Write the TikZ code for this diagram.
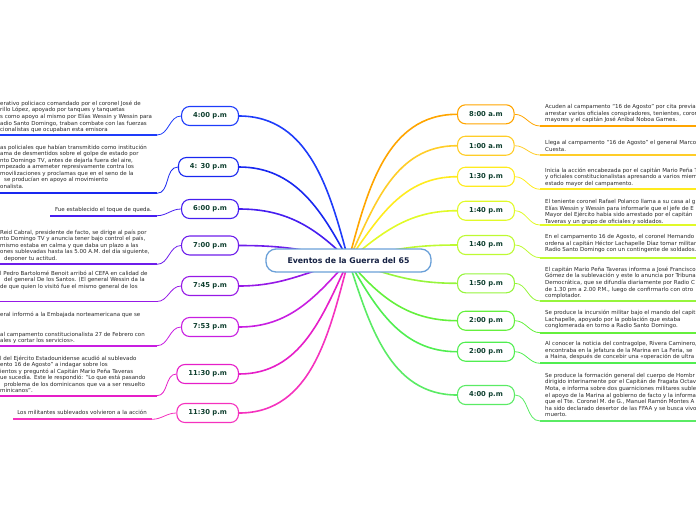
\documentclass[tikz,border=0pt]{standalone}
\usepackage{fontspec}
\setmainfont{DejaVu Sans}
\usepackage{xcolor}
\usetikzlibrary{backgrounds}

\definecolor{hubline}{RGB}{106,160,216}
\definecolor{hubtext}{RGB}{22,34,68}
\definecolor{timetext}{RGB}{16,64,48}
\definecolor{notetext}{RGB}{40,40,40}
\definecolor{lc1}{RGB}{30,60,250}
\definecolor{lc2}{RGB}{25,40,240}
\definecolor{lc3}{RGB}{70,30,240}
\definecolor{lc4}{RGB}{110,30,235}
\definecolor{lc5}{RGB}{150,25,230}
\definecolor{lc6}{RGB}{200,30,225}
\definecolor{lc7}{RGB}{230,30,200}
\definecolor{lc8}{RGB}{245,50,190}
\definecolor{rc1}{RGB}{255,165,0}
\definecolor{rc2}{RGB}{255,205,40}
\definecolor{rc3}{RGB}{255,235,30}
\definecolor{rc4}{RGB}{225,250,40}
\definecolor{rc5}{RGB}{190,250,50}
\definecolor{rc6}{RGB}{150,245,60}
\definecolor{rc7}{RGB}{100,240,60}
\definecolor{rc8}{RGB}{80,238,80}
\definecolor{rc9}{RGB}{90,235,100}

\begin{document}
\begin{tikzpicture}[x=1pt,y=1pt,
  hub/.style={draw=hubline,line width=1.3pt,rounded corners=10pt,fill=white,text=hubtext,font=\fontsize{7.8}{9}\selectfont\bfseries,minimum width=165pt,minimum height=23pt,inner sep=0pt},
  ltime/.style={draw=#1,line width=1.1pt,rounded corners=8pt,fill=white,text=timetext,font=\fontsize{6.8}{8}\selectfont\bfseries,minimum height=19pt,inner xsep=11.5pt,inner ysep=0pt,anchor=east},
  rtime/.style={ltime=#1,anchor=west},
  txt/.style={anchor=north west,align=left,inner sep=0pt,text=notetext,font=\fontsize{5.5}{6.55}\selectfont},
  spoke/.style={draw=#1,line width=1.6pt},
  twig/.style={draw=#1,line width=0.8pt},
  uline/.style={draw=#1,line width=1.8pt}
]
\useasboundingbox (0,0) rectangle (696,-520);

\node[hub] (hub) at (348.5,-260.5) {Eventos de la Guerra del 65};

\node[ltime=lc1] (l1) at (239,-116) {4:00 p.m};
\node[ltime=lc2] (l2) at (239,-167) {4: 30 p.m};
\node[ltime=lc3] (l3) at (239,-209) {6:00 p.m};
\node[ltime=lc4] (l4) at (239,-245.5) {7:00 p.m};
\node[ltime=lc5] (l5) at (239,-286) {7:45 p.m};
\node[ltime=lc6] (l6) at (239,-327) {7:53 p.m};
\node[ltime=lc7] (l7) at (239,-374) {11:30 p.m};
\node[ltime=lc8] (l8) at (239,-413) {11:30 p.m};

\node[rtime=rc1] (r1) at (457,-114.3) {8:00 a.m};
\node[rtime=rc2] (r2) at (457,-145.7) {1:00 a.m};
\node[rtime=rc3] (r3) at (457,-176.7) {1:30 p.m};
\node[rtime=rc4] (r4) at (457,-210.7) {1:40 p.m};
\node[rtime=rc5] (r5) at (457,-245) {1:40 p.m};
\node[rtime=rc6] (r6) at (457,-283.3) {1:50 p.m};
\node[rtime=rc7] (r7) at (457,-320.7) {2:00 p.m};
\node[rtime=rc8] (r8) at (457,-351.7) {2:00 p.m};
\node[rtime=rc9] (r9) at (457,-395) {4:00 p.m};

\node[txt] (l1t) at (0,-100.8) {erativo policiaco comandado por el coronel José de\\rillo López, apoyado por tanques y tanquetas\\s como apoyo al mismo por Elías Wessin y Wessin para\\adio Santo Domingo, traban combate con las fuerzas\\cionalistas que ocupaban esta emisora};
\node[txt] (l2t) at (0,-144.5) {as policiales que habían transmitido como institución\\ama de desmentidos sobre el golpe de estado por\\nto Domingo TV, antes de dejarla fuera del aire,\\mpezado a arremeter represivamente contra los\\movilizaciones y proclamas que en el seno de la\\\hspace*{4pt}se producían en apoyo al movimiento\\onalista.};
\node[txt,anchor=north east] (l3t) at (152,-206.8) {Fue establecido el toque de queda.};
\node[txt] (l4t) at (0,-229.5) {Reid Cabral, presidente de facto, se dirige al país por\\nto Domingo TV y anuncia tener bajo control el país,\\mismo estaba en calma y que daba un plazo a las\\ones sublevadas hasta las 5.00 A.M. del día siguiente,\\\hspace*{4pt}deponer tu actitud.};
\node[txt] (l5t) at (0,-270.8) {l Pedro Bartolomé Benoit arribó al CEFA en calidad de\\\hspace*{4pt}del general De los Santos. (El general Wessin da la\\de que quien lo visitó fue el mismo general de los};
\node[txt] (l6t) at (0,-312) {eral informó a la Embajada norteamericana que se\\[13.1pt]al campamento constitucionalista 27 de Febrero con\\ales y cortar los servicios».};
\node[txt] (l7t) at (0,-355.5) {l del Ejército Estadounidense acudió al sublevado\\ento 16 de Agosto” a indagar sobre los\\ientos y preguntó al Capitán Mario Peña Taveras\\ue sucedía. Este le respondió: “Lo que está pasando\\\hspace*{4pt}problema de los dominicanos que va a ser resuelto\\minicanos”.};
\node[txt,anchor=north east] (l8t) at (147,-410.1) {Los militantes sublevados volvieron a la acción};

\node[txt] (r1t) at (545,-104.5) {Acuden al campamento “16 de Agosto” por cita previa\\arrestar varios oficiales conspiradores, tenientes, coron\\mayores y el capitán José Aníbal Noboa Garnes.};
\node[txt] (r2t) at (545,-140.3) {Llega al campamento “16 de Agosto” el general Marcos\\Cuesta.};
\node[txt] (r3t) at (545,-167.8) {Inicia la acción encabezada por el capitán Mario Peña T\\y oficiales constitucionalistas apresando a varios miem\\estado mayor del campamento.};
\node[txt] (r4t) at (545,-199.5) {El teniente coronel Rafael Polanco llama a su casa al g\\Elías Wessin y Wessin para informarle que el jefe de E\\Mayor del Ejército había sido arrestado por el capitán\\Taveras y un grupo de oficiales y soldados.};
\node[txt] (r5t) at (545,-234.5) {En el campamento 16 de Agosto, el coronel Hernando\\ordena al capitán Héctor Lachapelle Díaz tomar militar\\Radio Santo Domingo con un contingente de soldados.};
\node[txt] (r6t) at (545,-266.8) {El capitán Mario Peña Taveras informa a José Francisco\\Gómez de la sublevación y este lo anuncia por Tribuna\\Democrática, que se difundía diariamente por Radio C\\de 1.30 pm a 2.00 P.M., luego de confirmarlo con otro\\complotador.};
\node[txt] (r7t) at (545,-310.1) {Se produce la incursión militar bajo el mando del capit\\Lachapelle, apoyado por la población que estaba\\conglomerada en torno a Radio Santo Domingo.};
\node[txt] (r8t) at (545,-341.1) {Al conocer la noticia del contragolpe, Rivera Caminero,\\encontraba en la jefatura de la Marina en La Feria, se\\a Haina, después de concebir una «operación de ultra};
\node[txt] (r9t) at (545,-372.8) {Se produce la formación general del cuerpo de Hombr\\dirigido interinamente por el Capitán de Fragata Octav\\Mota, e informa sobre dos guarniciones militares suble\\el apoyo de la Marina al gobierno de facto y la informa\\que el Tte. Coronel M. de G., Manuel Ramón Montes A\\ha sido declarado desertor de las FFAA y se busca vivo\\muerto.};

\coordinate (l1u) at (157,-135);
\coordinate (l2u) at (157,-193.3);
\coordinate (l3u) at (157,-215.7);
\coordinate (l4u) at (157,-264.3);
\coordinate (l5u) at (157,-301.5);
\coordinate (l6u) at (157,-345.7);
\coordinate (l7u) at (157,-395.7);
\coordinate (l8u) at (152,-419.3);
\coordinate (r1u) at (540,-126);
\coordinate (r2u) at (540,-155);
\coordinate (r3u) at (540,-189.3);
\coordinate (r4u) at (540,-225);
\coordinate (r5u) at (540,-257.7);
\coordinate (r6u) at (540,-301);
\coordinate (r7u) at (540,-332.7);
\coordinate (r8u) at (540,-363.3);
\coordinate (r9u) at (540,-421);

\begin{pgfonlayer}{background}
\draw[spoke=lc1] (hub.center) to[out=105,in=0] (l1.east);
\draw[spoke=lc2] (hub.center) to[out=118,in=0] (l2.east);
\draw[spoke=lc3] (hub.center) to[out=135,in=0] (l3.east);
\draw[spoke=lc4] (hub.center) to[out=165,in=0] (l4.east);
\draw[spoke=lc5] (hub.center) to[out=195,in=0] (l5.east);
\draw[spoke=lc6] (hub.center) to[out=228,in=0] (l6.east);
\draw[spoke=lc7] (hub.center) to[out=245,in=0] (l7.east);
\draw[spoke=lc8] (hub.center) to[out=255,in=0] (l8.east);
\draw[spoke=rc1] (hub.center) to[out=75,in=180] (r1.west);
\draw[spoke=rc2] (hub.center) to[out=65,in=180] (r2.west);
\draw[spoke=rc3] (hub.center) to[out=55,in=180] (r3.west);
\draw[spoke=rc4] (hub.center) to[out=40,in=180] (r4.west);
\draw[spoke=rc5] (hub.center) to[out=15,in=180] (r5.west);
\draw[spoke=rc6] (hub.center) to[out=-20,in=180] (r6.west);
\draw[spoke=rc7] (hub.center) to[out=-50,in=180] (r7.west);
\draw[spoke=rc8] (hub.center) to[out=-60,in=180] (r8.west);
\draw[spoke=rc9] (hub.center) to[out=-72,in=180] (r9.west);
\end{pgfonlayer}

\draw[twig=lc1] (l1.west) to[out=180,in=0] (l1u);
\draw[twig=lc2] (l2.west) to[out=180,in=0] (l2u);
\draw[twig=lc3] (l3.west) to[out=180,in=0] (l3u);
\draw[twig=lc4] (l4.west) to[out=180,in=0] (l4u);
\draw[twig=lc5] (l5.west) to[out=180,in=0] (l5u);
\draw[twig=lc6] (l6.west) to[out=180,in=0] (l6u);
\draw[twig=lc7] (l7.west) to[out=180,in=0] (l7u);
\draw[twig=lc8] (l8.west) to[out=180,in=0] (l8u);
\draw[twig=rc1] (r1.east) to[out=0,in=180] (r1u);
\draw[twig=rc2] (r2.east) to[out=0,in=180] (r2u);
\draw[twig=rc3] (r3.east) to[out=0,in=180] (r3u);
\draw[twig=rc4] (r4.east) to[out=0,in=180] (r4u);
\draw[twig=rc5] (r5.east) to[out=0,in=180] (r5u);
\draw[twig=rc6] (r6.east) to[out=0,in=180] (r6u);
\draw[twig=rc7] (r7.east) to[out=0,in=180] (r7u);
\draw[twig=rc8] (r8.east) to[out=0,in=180] (r8u);
\draw[twig=rc9] (r9.east) to[out=0,in=180] (r9u);

\draw[uline=lc1] (l1u) -- ++(-160,0);
\draw[uline=lc2] (l2u) -- ++(-160,0);
\draw[uline=lc3] (l3u) -- ++(-107,0);
\draw[uline=lc4] (l4u) -- ++(-160,0);
\draw[uline=lc5] (l5u) -- ++(-160,0);
\draw[uline=lc6] (l6u) -- ++(-160,0);
\draw[uline=lc7] (l7u) -- ++(-160,0);
\draw[uline=lc8] (l8u) -- ++(-139.3,0);
\draw[uline=rc1] (r1u) -- ++(160,0);
\draw[uline=rc2] (r2u) -- ++(160,0);
\draw[uline=rc3] (r3u) -- ++(160,0);
\draw[uline=rc4] (r4u) -- ++(160,0);
\draw[uline=rc5] (r5u) -- ++(160,0);
\draw[uline=rc6] (r6u) -- ++(160,0);
\draw[uline=rc7] (r7u) -- ++(160,0);
\draw[uline=rc8] (r8u) -- ++(160,0);
\draw[uline=rc9] (r9u) -- ++(160,0);
\end{tikzpicture}
\end{document}
